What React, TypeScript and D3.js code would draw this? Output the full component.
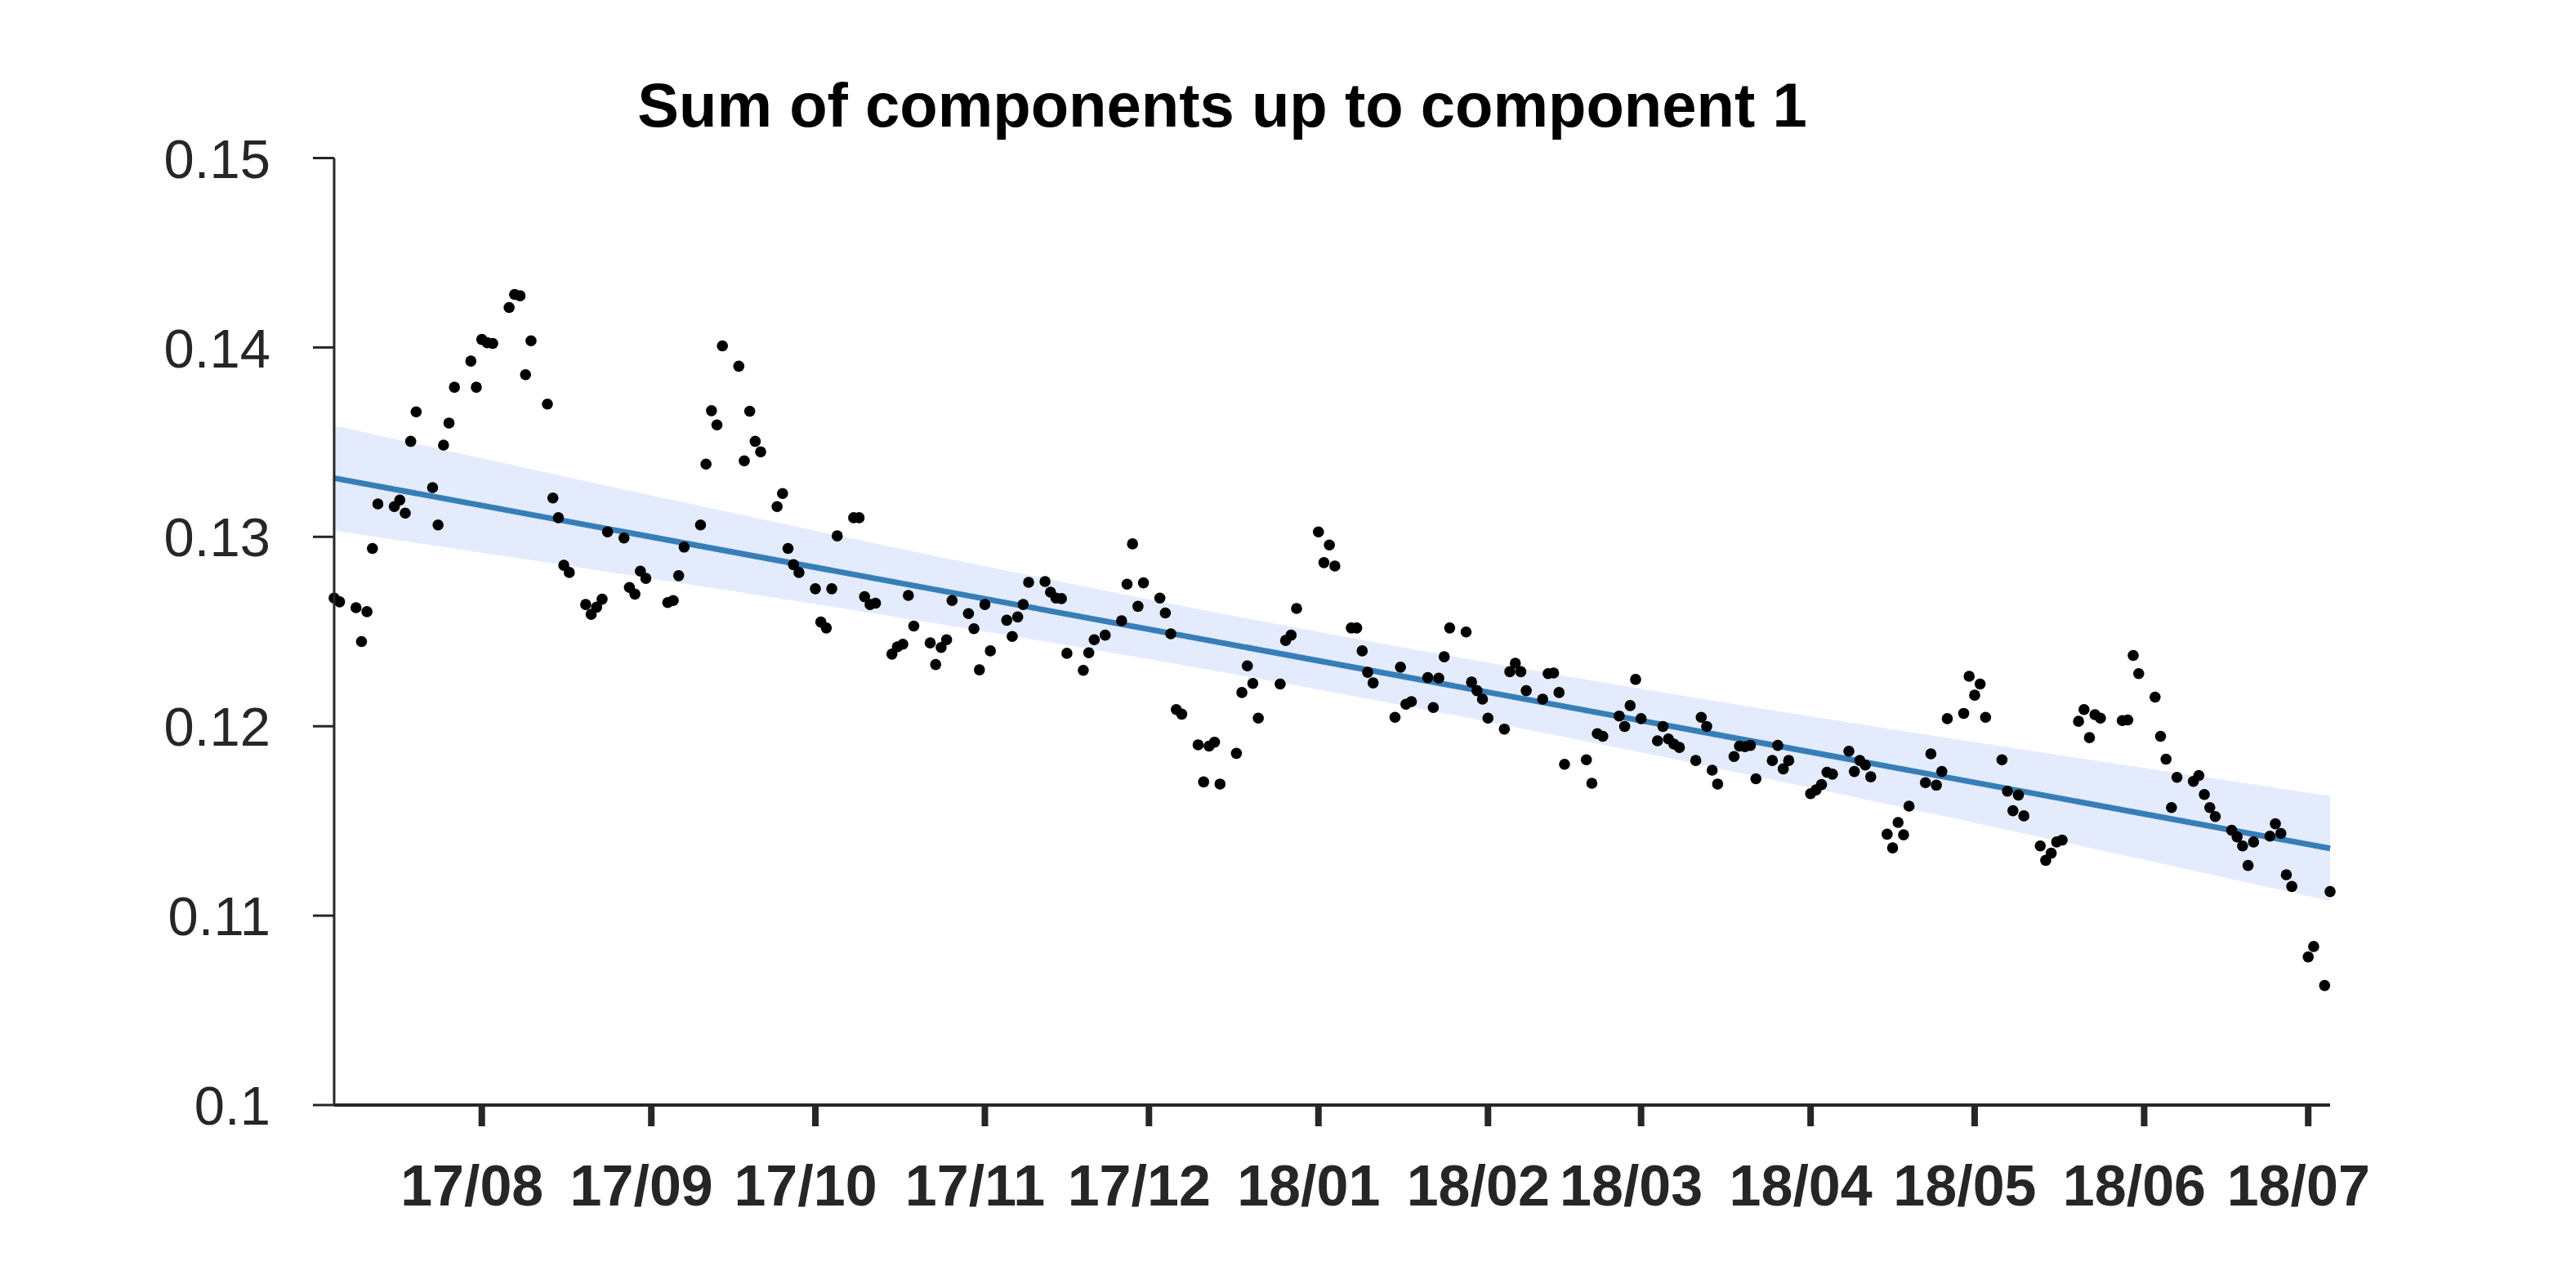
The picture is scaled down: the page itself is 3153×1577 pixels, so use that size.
import React, { useEffect } from "react";
import * as d3 from "d3";

// ---------- data ----------
const TITLE = "Sum of components up to component 1";

// First Monday of the weekly grid (trading days Mon..Fri); null = no observation (holiday / before start)
const firstMonday = "2017-07-03";

const weeklyValues: (number | null)[][] = [
  [null, null, null, 0.12677, 0.12657],
  [0.12626, 0.12447, 0.12605, 0.12939, 0.13174],
  [0.1316, 0.13194, 0.13125, 0.13504, 0.1366],
  [0.1326, 0.13063, 0.13484, 0.13601, 0.1379],
  [0.13928, 0.1379, 0.14042, 0.14025, 0.14021],
  [0.14211, 0.1428, 0.14273, 0.13856, 0.14035],
  [0.13701, 0.13205, 0.13101, 0.1285, 0.12812],
  [0.12643, 0.12591, 0.12629, 0.12671, 0.13026],
  [0.12994, 0.12733, 0.12698, 0.12819, 0.12781],
  [null, 0.12653, 0.12664, 0.12795, 0.12946],
  [0.13063, 0.13384, 0.13666, 0.13591, 0.14008],
  [0.13901, 0.13401, 0.13663, 0.13504, 0.13449],
  [0.1316, 0.13229, 0.12939, 0.12853, 0.12812],
  [0.12726, 0.1255, 0.12519, 0.12726, 0.13005],
  [0.13101, 0.13101, 0.12684, 0.12643, 0.1265],
  [0.12381, 0.12419, 0.12433, 0.12691, 0.12529],
  [0.1244, 0.12326, 0.12416, 0.12457, 0.12664],
  [0.12595, 0.12515, 0.12298, 0.12643, 0.12398],
  [0.1256, 0.12474, 0.12577, 0.12643, 0.1276],
  [0.12764, 0.12708, 0.12677, 0.12674, 0.12385],
  [0.12295, 0.12388, 0.12457, null, 0.12481],
  [0.12557, 0.1275, 0.12963, 0.12633, 0.12757],
  [0.12677, 0.12598, 0.12488, 0.12088, 0.12064],
  [0.11902, 0.11706, 0.11895, 0.11916, 0.11695],
  [0.11857, 0.12178, 0.12319, 0.12226, 0.12043],
  [null, 0.12223, 0.12453, 0.12481, 0.12622],
  [null, 0.13026, 0.12864, 0.12957, 0.12846],
  [0.12519, 0.12519, 0.12398, 0.12285, 0.12229],
  [null, 0.12047, 0.12312, 0.12116, 0.1213],
  [0.12257, 0.12099, 0.12254, 0.12367, 0.12519],
  [0.12498, 0.12233, 0.12188, 0.12143, 0.12043],
  [0.11985, 0.12288, 0.12333, 0.12288, 0.12188],
  [0.12143, 0.12278, 0.12281, 0.12178, 0.11799],
  [null, 0.11823, 0.11699, 0.11961, 0.11947],
  [0.12054, 0.11999, 0.12109, 0.12247, 0.1204],
  [0.11923, 0.11999, 0.11933, 0.11906, 0.11888],
  [0.11819, 0.12047, 0.11999, 0.11768, 0.11695],
  [0.1184, 0.11895, 0.11892, 0.11899, 0.11723],
  [0.11819, 0.11899, 0.11775, 0.11819, null],
  [0.11644, 0.11664, 0.11692, 0.11757, 0.11747],
  [0.11868, 0.11761, 0.11819, 0.11795, 0.11733],
  [0.1143, 0.11358, 0.11492, 0.11427, 0.11578],
  [0.11702, 0.11854, 0.11689, 0.11761, 0.1204],
  [0.12068, 0.12264, 0.12164, 0.12223, 0.12047],
  [0.11823, 0.11657, 0.11554, 0.11637, 0.11527],
  [0.11368, 0.11292, 0.1133, 0.11389, 0.11399],
  [0.12026, 0.12088, 0.1194, 0.12061, 0.12043],
  [null, 0.1203, 0.12033, 0.12374, 0.12278],
  [0.12154, 0.11947, 0.11826, 0.11571, 0.1173],
  [0.11709, 0.1174, 0.1164, 0.11571, 0.11523],
  [0.11451, 0.11416, 0.11368, 0.11265, 0.11389],
  [0.1142, 0.11485, 0.11434, 0.11216, 0.11154],
  [0.10782, 0.10837, null, 0.10631, 0.11127],
];

const xDomainDates = ["2017-07-05", "2018-07-05"];
const monthTickDates = [
  "2017-08-01", "2017-09-01", "2017-10-01", "2017-11-01", "2017-12-01", "2018-01-01",
  "2018-02-01", "2018-03-01", "2018-04-01", "2018-05-01", "2018-06-01", "2018-07-01",
];
const monthTickLabels = [
  "17/08", "17/09", "17/10", "17/11", "17/12", "18/01",
  "18/02", "18/03", "18/04", "18/05", "18/06", "18/07",
];
const yTickValues = [0.1, 0.11, 0.12, 0.13, 0.14, 0.15];
const yTickLabels = ["0.1", "0.11", "0.12", "0.13", "0.14", "0.15"];

// fitted trend (value at start / end of the x-range) and its confidence half-width
const trendValues = [0.1331, 0.11355];
const bandHalfWidth = { ends: 0.00277, middle: 0.00152 };

// ---------- layout ----------
const W = 3153;
const H = 1577;
const plot = { left: 409, right: 2852, top: 193.5, bottom: 1353 };
const TEXT = "#262626";
const FONT = "'Liberation Sans', Arial, Helvetica, sans-serif";

const parse = d3.timeParse("%Y-%m-%d");

export default function App() {
  useEffect(() => {
    document.body.style.margin = "0";
  }, []);

  const start = parse(firstMonday) as Date;
  const points: { date: Date; value: number }[] = [];
  weeklyValues.forEach((week, wi) => {
    week.forEach((v, di) => {
      if (v === null) return;
      // observations are stamped one day before the trading date
      const date = d3.timeDay.offset(start, wi * 7 + di - 1);
      points.push({ date, value: v });
    });
  });

  const x = d3
    .scaleTime()
    .domain(xDomainDates.map((s) => parse(s) as Date))
    .range([plot.left, plot.right]);
  const y = d3.scaleLinear().domain([0.1, 0.15]).range([plot.bottom, plot.top]);

  const [d0, d1] = x.domain();
  const span = +d1 - +d0;
  const samples = d3.range(0, 101).map((i) => i / 100);
  const trendAt = (t: number) => trendValues[0] + (trendValues[1] - trendValues[0]) * t;
  const a = bandHalfWidth.middle ** 2;
  const b = (bandHalfWidth.ends ** 2 - a) / 0.25;
  const halfAt = (t: number) => Math.sqrt(a + b * (t - 0.5) ** 2);
  const tToDate = (t: number) => new Date(+d0 + span * t);

  const bandPath =
    d3
      .area<number>()
      .x((t) => x(tToDate(t)))
      .y0((t) => y(trendAt(t) - halfAt(t)))
      .y1((t) => y(trendAt(t) + halfAt(t)))(samples) || "";
  const linePath =
    d3
      .line<number>()
      .x((t) => x(tToDate(t)))
      .y((t) => y(trendAt(t)))([0, 1]) || "";

  return (
    <svg
      width={W}
      height={H}
      viewBox={`0 0 ${W} ${H}`}
      style={{ position: "absolute", left: 0, top: 0, background: "#fff", display: "block" }}
    >
      <rect x={0} y={0} width={W} height={H} fill="#fff" />
      <text
        x={1496}
        y={155}
        textAnchor="middle"
        fontFamily={FONT}
        fontWeight="bold"
        fontSize={76}
        fill="#000"
      >
        {TITLE}
      </text>

      <path d={bandPath} fill="#e3ebfc" stroke="none" />
      <path d={linePath} fill="none" stroke="#377eb8" strokeWidth={7} />

      {points.map((p, i) => (
        <circle key={i} cx={x(p.date)} cy={y(p.value)} r={6.8} fill="#000" />
      ))}

      {/* y axis */}
      <line x1={plot.left} x2={plot.left} y1={plot.top} y2={plot.bottom} stroke={TEXT} strokeWidth={3} />
      {yTickValues.map((v, i) => (
        <g key={i}>
          <line x1={plot.left - 26} x2={plot.left} y1={y(v)} y2={y(v)} stroke={TEXT} strokeWidth={3} />
          <text
            x={331}
            y={y(v)}
            dy="0.36em"
            textAnchor="end"
            fontFamily={FONT}
            fontSize={67}
            fill={TEXT}
          >
            {yTickLabels[i]}
          </text>
        </g>
      ))}

      {/* x axis */}
      <line x1={plot.left} x2={plot.right} y1={plot.bottom} y2={plot.bottom} stroke={TEXT} strokeWidth={4} />
      {monthTickDates.map((s, i) => {
        const xx = x(parse(s) as Date);
        return (
          <g key={s}>
            <line x1={xx} x2={xx} y1={plot.bottom} y2={plot.bottom + 26} stroke={TEXT} strokeWidth={8} />
            <text
              x={xx - 12}
              y={1476}
              textAnchor="middle"
              fontFamily={FONT}
              fontWeight="bold"
              fontSize={70}
              fill={TEXT}
            >
              {monthTickLabels[i]}
            </text>
          </g>
        );
      })}
    </svg>
  );
}
